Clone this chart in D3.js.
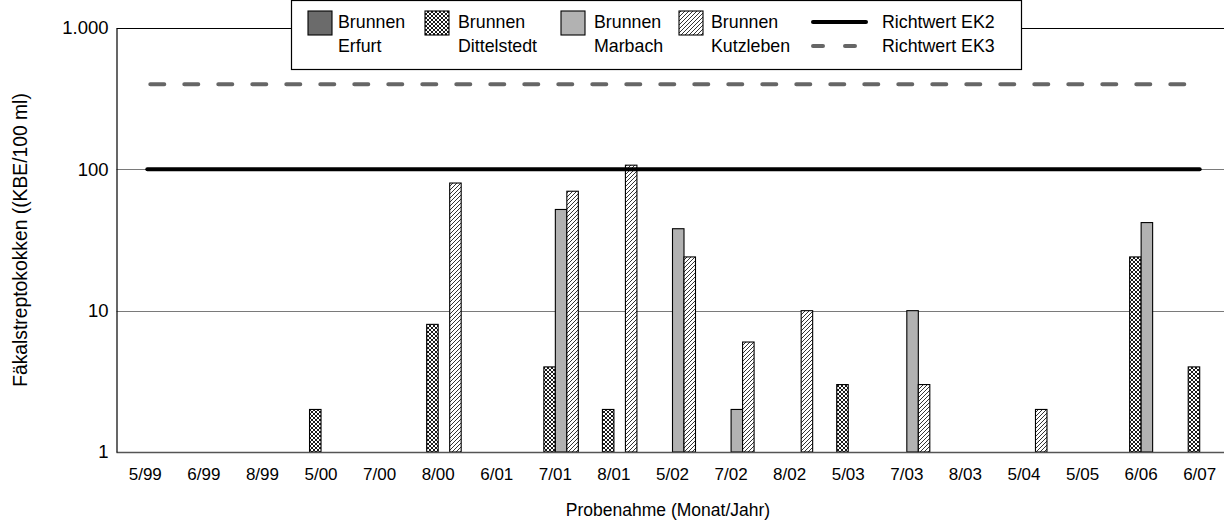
<!DOCTYPE html>
<html>
<head>
<meta charset="utf-8">
<script src="https://cdn.jsdelivr.net/npm/d3@7"></script>
<style>
  html, body { margin: 0; padding: 0; background: #fff; }
  svg { display: block; font-family: "Liberation Sans", Arial, sans-serif; }
</style>
</head>
<body>
<svg id="chart" width="1224" height="524"></svg>
<script>
// Sampling dates (month/year)
const categories = ["5/99", "6/99", "8/99", "5/00", "7/00", "8/00", "6/01", "7/01", "8/01",
  "5/02", "7/02", "8/02", "5/03", "7/03", "8/03", "5/04", "5/05", "6/06", "6/07"];

// Faecal streptococci, KBE/100 ml (null = not detected)
const erfurt      = [null, null, null, null, null, null, null, null, null, null, null, null, null, null, null, null, null, null, null];
const dittelstedt = [null, null, null, 2, null, 8, null, 4, 2, null, null, null, 3, null, null, null, null, 24, 4];
const marbach     = [null, null, null, null, null, null, null, 52, null, 38, 2, null, null, 10, null, null, null, 42, null];
const kutzleben   = [null, null, null, null, null, 80, null, 70, 107, 24, 6, 10, null, 3, null, 2, null, null, null];

const seriesNames = ["Brunnen Erfurt", "Brunnen Dittelstedt", "Brunnen Marbach", "Brunnen Kutzleben"];
const seriesValues = [erfurt, dittelstedt, marbach, kutzleben];

// Guide values
const richtwertEK2 = 100;
const richtwertEK3 = 400;

const yTicks = [1, 10, 100, 1000];

const svg = d3.select("#chart");
const defs = svg.append("defs");

// cross-hatch fill
const cross = defs.append("pattern").attr("id", "pat-cross")
  .attr("patternUnits", "userSpaceOnUse").attr("width", 4).attr("height", 4);
cross.append("rect").attr("width", 4).attr("height", 4).attr("fill", "#fff");
cross.append("path").attr("d", "M0,0L4,4M4,0L0,4M-1,1L1,-1M3,5L5,3M-1,3L1,5M3,-1L5,1")
  .attr("stroke", "#000").attr("stroke-width", 0.9);

// diagonal hatch fill
const hatch = defs.append("pattern").attr("id", "pat-hatch")
  .attr("patternUnits", "userSpaceOnUse").attr("width", 4).attr("height", 4);
hatch.append("rect").attr("width", 4).attr("height", 4).attr("fill", "#fff");
hatch.append("path").attr("d", "M-1,1L1,-1M0,4L4,0M3,5L5,3")
  .attr("stroke", "#000").attr("stroke-width", 0.8);

const fills = ["#6b6b6b", "url(#pat-cross)", "#b2b2b2", "url(#pat-hatch)"];

const x = d3.scaleBand().domain(categories).range([116, 1229]).paddingInner(0).paddingOuter(0);
const groupW = 46;
const xs = d3.scaleBand().domain(d3.range(seriesNames.length)).range([0, groupW]);
const y = d3.scaleLog().domain([1, 1000]).range([452, 28]);

const plotLeft = 116.5, plotRight = 1230;

// gridlines
svg.append("g").selectAll("line").data([10, 100]).join("line")
  .attr("x1", plotLeft).attr("x2", plotRight)
  .attr("y1", d => Math.round(y(d)) + 0.5).attr("y2", d => Math.round(y(d)) + 0.5)
  .attr("stroke", "#7a7a7a").attr("stroke-width", 1.2);

// top frame
svg.append("line").attr("x1", plotLeft).attr("x2", plotRight)
  .attr("y1", Math.round(y(1000)) + 0.5).attr("y2", Math.round(y(1000)) + 0.5)
  .attr("stroke", "#000").attr("stroke-width", 1.2);

// bars
const barData = [];
seriesValues.forEach((vals, s) => {
  vals.forEach((v, i) => { if (v != null) barData.push({ s, cat: categories[i], v }); });
});
svg.append("g").selectAll("rect").data(barData).join("rect")
  .attr("x", d => x(d.cat) + x.bandwidth() / 2 - groupW / 2 + xs(d.s))
  .attr("width", xs.bandwidth())
  .attr("y", d => y(d.v))
  .attr("height", d => y(1) - y(d.v))
  .attr("fill", d => fills[d.s])
  .attr("stroke", "#000").attr("stroke-width", 1.1);

// x baseline
svg.append("line").attr("x1", plotLeft).attr("x2", plotRight)
  .attr("y1", Math.round(y(1)) + 0.5).attr("y2", Math.round(y(1)) + 0.5)
  .attr("stroke", "#555").attr("stroke-width", 1.3);

// guide lines from first to last sampling date
const first = x(categories[0]) + x.bandwidth() / 2;
const last = x(categories[categories.length - 1]) + x.bandwidth() / 2;
svg.append("line").attr("x1", first + 2).attr("x2", last)
  .attr("y1", y(richtwertEK2)).attr("y2", y(richtwertEK2))
  .attr("stroke", "#000").attr("stroke-width", 4).attr("stroke-linecap", "round");
svg.append("line").attr("x1", first + 5).attr("x2", last)
  .attr("y1", y(richtwertEK3)).attr("y2", y(richtwertEK3))
  .attr("stroke", "#666").attr("stroke-width", 4).attr("stroke-linecap", "round")
  .attr("stroke-dasharray", "14,20");

// y axis
const fmt = d3.formatLocale({ decimal: ",", thousands: ".", grouping: [3], currency: ["", "€"] }).format(",d");
const yAxis = svg.append("g").attr("transform", `translate(${plotLeft},0)`)
  .call(d3.axisLeft(y).tickValues(yTicks).tickFormat(fmt).tickSize(0).tickPadding(8));
yAxis.select(".domain").attr("stroke", "#000").attr("stroke-width", 1.2);
yAxis.selectAll("text").attr("font-size", 18.5).attr("fill", "#000")
  .attr("font-family", "Liberation Sans, Arial, sans-serif");

// x axis labels
const xAxis = svg.append("g").attr("transform", `translate(0,${y(1)})`)
  .call(d3.axisBottom(x).tickSize(0).tickPadding(16));
xAxis.select(".domain").remove();
xAxis.selectAll("text").attr("font-size", 17).attr("fill", "#000")
  .attr("font-family", "Liberation Sans, Arial, sans-serif");

// axis titles
svg.append("text").attr("x", 668).attr("y", 516).attr("text-anchor", "middle")
  .attr("font-size", 17.5).text("Probenahme (Monat/Jahr)");
svg.append("text").attr("transform", "translate(27,240) rotate(-90)")
  .attr("text-anchor", "middle").attr("font-size", 19.3)
  .text("Fäkalstreptokokken ((KBE/100 ml)");

// legend
const legend = svg.append("g");
legend.append("rect").attr("x", 291.5).attr("y", 0.5).attr("width", 730).attr("height", 69)
  .attr("fill", "#fff").attr("stroke", "#000").attr("stroke-width", 1.2);
const swatchX = [308, 425, 561, 679];
const textX = [338, 458, 594, 711];
seriesNames.forEach((name, i) => {
  legend.append("rect").attr("x", swatchX[i]).attr("y", 11).attr("width", 24).attr("height", 24)
    .attr("fill", fills[i]).attr("stroke", "#000").attr("stroke-width", 1.1);
  const parts = name.split(" ");
  legend.append("text").attr("x", textX[i]).attr("y", 28).attr("font-size", 17.8).text(parts[0]);
  legend.append("text").attr("x", textX[i]).attr("y", 52).attr("font-size", 17.8).text(parts[1]);
});
legend.append("line").attr("x1", 813).attr("x2", 866).attr("y1", 22).attr("y2", 22)
  .attr("stroke", "#000").attr("stroke-width", 4).attr("stroke-linecap", "round");
legend.append("line").attr("x1", 813).attr("x2", 866).attr("y1", 46).attr("y2", 46)
  .attr("stroke", "#666").attr("stroke-width", 4).attr("stroke-linecap", "round")
  .attr("stroke-dasharray", "10,22");
legend.append("text").attr("x", 882).attr("y", 28).attr("font-size", 17.8).text("Richtwert EK2");
legend.append("text").attr("x", 882).attr("y", 52).attr("font-size", 17.8).text("Richtwert EK3");
</script>
</body>
</html>
